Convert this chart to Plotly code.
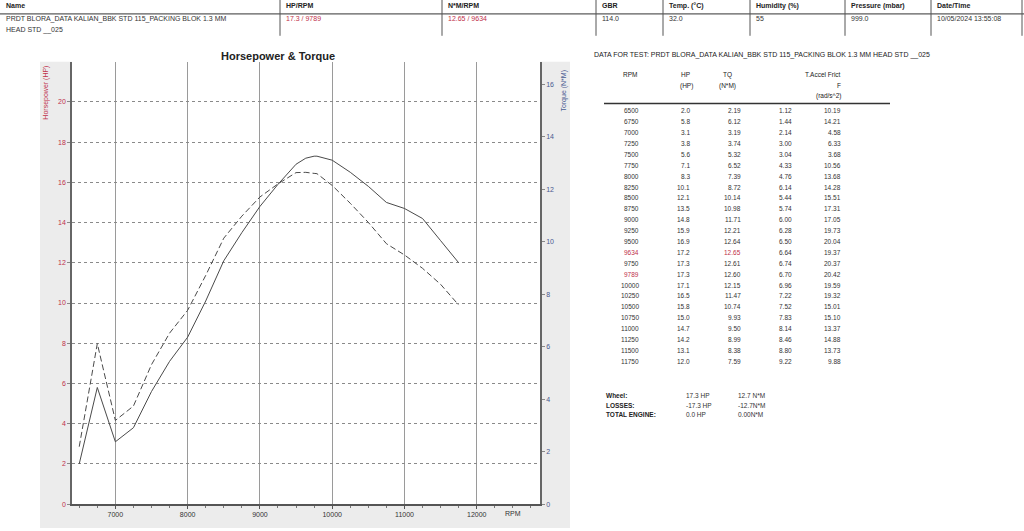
import plotly.graph_objects as go

# ---------------- data ----------------
rpm = [6500, 6750, 7000, 7250, 7500, 7750, 8000, 8250, 8500, 8750, 9000, 9250,
       9500, 9634, 9750, 9789, 10000, 10250, 10500, 10750, 11000, 11250, 11500, 11750]
hp = [2.0, 5.8, 3.1, 3.8, 5.6, 7.1, 8.3, 10.1, 12.1, 13.5, 14.8, 15.9,
      16.9, 17.2, 17.3, 17.3, 17.1, 16.5, 15.8, 15.0, 14.7, 14.2, 13.1, 12.0]
tq = [2.19, 6.12, 3.19, 3.74, 5.32, 6.52, 7.39, 8.72, 10.14, 10.98, 11.71, 12.21,
      12.64, 12.65, 12.61, 12.60, 12.15, 11.47, 10.74, 9.93, 9.50, 8.99, 8.38, 7.59]
accel = [1.12, 1.44, 2.14, 3.00, 3.04, 4.33, 4.76, 6.14, 5.44, 5.74, 6.00, 6.28,
         6.50, 6.64, 6.74, 6.70, 6.96, 7.22, 7.52, 7.83, 8.14, 8.46, 8.80, 9.22]
frict = [10.19, 14.21, 4.58, 6.33, 3.68, 10.56, 13.68, 14.28, 15.51, 17.31, 17.05, 19.73,
         20.04, 19.37, 20.37, 20.42, 19.59, 19.32, 15.01, 15.10, 13.37, 14.88, 13.73, 9.88]
highlight_rpm = [9634, 9789]

x_ticks = [7000, 8000, 9000, 10000, 11000, 12000]
hp_ticks = [0, 2, 4, 6, 8, 10, 12, 14, 16, 18, 20]
tq_ticks = [0, 2, 4, 6, 8, 10, 12, 14, 16]

test_name = "PRDT BLORA_DATA KALIAN_BBK STD 115_PACKING BLOK 1.3 MM HEAD STD __025"
header_labels = ["Name", "HP/RPM", "N*M/RPM", "GBR", "Temp. (°C)", "Humidity (%)", "Pressure (mbar)", "Date/Time"]
header_values = ["PRDT BLORA_DATA KALIAN_BBK STD 115_PACKING BLOK 1.3 MM", "17.3 / 9789", "12.65 / 9634",
                 "114.0", "32.0", "55", "999.0", "10/05/2024 13:55:08"]
summary_labels = ["Wheel:", "LOSSES:", "TOTAL ENGINE:"]
summary_hp = ["17.3 HP", "-17.3 HP", "0.0 HP"]
summary_tq = ["12.7 N*M", "-12.7N*M", "0.00N*M"]

# ---------------- layout helpers ----------------
W, H = 1024, 531
FONT = "Liberation Sans, Arial, sans-serif"
RED = "#c0304a"
BLUE = "#4a5a90"


def px(x):
    return x / W


def py(y):
    return 1 - y / H


fig = go.Figure()
fig.add_trace(go.Scatter(x=rpm, y=hp, mode="lines", line=dict(color="#4a4a4a", width=1),
                         name="HP", yaxis="y"))
fig.add_trace(go.Scatter(x=rpm, y=tq, mode="lines", line=dict(color="#4a4a4a", width=1, dash="6px,3px"),
                         name="TQ", yaxis="y2"))

annotations = []
shapes = []

# gray frame strips around axes
for x0, x1, y0, y1 in [(40, 72, 62, 531), (540, 570, 62, 531), (72, 540, 507, 531)]:
    shapes.append(dict(type="rect", xref="paper", yref="paper", x0=px(x0), x1=px(x1),
                       y0=py(y1), y1=py(y0), fillcolor="#ececec", line=dict(width=0), layer="below"))

# header table lines
shapes.append(dict(type="line", xref="paper", yref="paper", x0=0, x1=1, y0=py(14), y1=py(14),
                   line=dict(color="#333", width=1)))
header_x = [4, 284, 446, 600, 667, 754, 849, 935]
for sx in [280, 442, 596, 663, 750, 845, 931, 1022]:
    shapes.append(dict(type="line", xref="paper", yref="paper", x0=px(sx), x1=px(sx), y0=py(0), y1=py(36),
                       line=dict(color="#555", width=1)))
for i, (lab, val) in enumerate(zip(header_labels, header_values)):
    annotations.append(dict(text="<b>" + lab + "</b>", x=px(header_x[i]), y=py(6), xref="paper", yref="paper",
                            xanchor="left", yanchor="middle", showarrow=False,
                            font=dict(size=7, color="#222", family=FONT)))
    col = RED if i in (1, 2) else "#333"
    annotations.append(dict(text=val, x=px(header_x[i]), y=py(19), xref="paper", yref="paper",
                            xanchor="left", yanchor="middle", showarrow=False,
                            font=dict(size=7, color=col, family=FONT)))
annotations.append(dict(text="HEAD STD __025", x=px(4), y=py(30), xref="paper", yref="paper",
                        xanchor="left", yanchor="middle", showarrow=False,
                        font=dict(size=7, color="#333", family=FONT)))

# chart title & axis titles
annotations.append(dict(text="<b>Horsepower &amp; Torque</b>", x=px(278), y=py(56), xref="paper", yref="paper",
                        xanchor="center", yanchor="middle", showarrow=False,
                        font=dict(size=11, color="#222", family=FONT)))
annotations.append(dict(text="Horsepower (HP)", x=px(46), y=py(64), xref="paper", yref="paper",
                        xanchor="center", yanchor="top", textangle=-90, showarrow=False,
                        font=dict(size=7, color=RED, family=FONT)))
annotations.append(dict(text="Torque (N*M)", x=px(564), y=py(68), xref="paper", yref="paper",
                        xanchor="center", yanchor="top", textangle=-90, showarrow=False,
                        font=dict(size=7, color=BLUE, family=FONT)))
annotations.append(dict(text="RPM", x=12500, y=py(516), xref="x", yref="paper",
                        xanchor="center", yanchor="middle", showarrow=False,
                        font=dict(size=7, color="#333", family=FONT)))

# data table
annotations.append(dict(text="DATA FOR TEST: " + test_name, x=px(592), y=py(55), xref="paper", yref="paper",
                        xanchor="left", yanchor="middle", showarrow=False,
                        font=dict(size=7, color="#222", family=FONT)))
hdr = [("RPM", 630, 75, "center"), ("HP", 685, 75, "center"), ("TQ", 727, 75, "center"),
       ("T.Accel Frict", 843, 75, "right"), ("(HP)", 686, 86, "center"), ("(N*M)", 727, 86, "center"),
       ("F", 843, 86, "right"), ("(rad/s^2)", 843, 97, "right")]
for t, xx, yy, anc in hdr:
    annotations.append(dict(text=t, x=px(xx), y=py(yy), xref="paper", yref="paper",
                            xanchor=anc, yanchor="middle", showarrow=False,
                            font=dict(size=6.5, color="#222", family=FONT)))
shapes.append(dict(type="line", xref="paper", yref="paper", x0=px(604), x1=px(890), y0=py(104), y1=py(104),
                   line=dict(color="#333", width=1.5)))
col_x = [641, 692, 743, 794, 843]
for i, r in enumerate(rpm):
    yy = 111.5 + 10.95 * i
    cells = [str(r), f"{hp[i]:.1f}", f"{tq[i]:.2f}", f"{accel[i]:.2f}", f"{frict[i]:.2f}"]
    for j, c in enumerate(cells):
        color = "#333"
        if r in highlight_rpm and j == 0:
            color = RED
        if r == 9634 and j == 2:
            color = RED
        annotations.append(dict(text=c, x=px(col_x[j]), y=py(yy), xref="paper", yref="paper",
                                xanchor="right", yanchor="middle", showarrow=False,
                                font=dict(size=6.5, color=color, family=FONT)))

for i, lab in enumerate(summary_labels):
    yy = 398 + 9.5 * i
    annotations.append(dict(text="<b>" + lab + "</b>", x=px(604), y=py(yy), xref="paper", yref="paper",
                            xanchor="left", yanchor="middle", showarrow=False,
                            font=dict(size=6.5, color="#222", family=FONT)))
    annotations.append(dict(text=summary_hp[i], x=px(684), y=py(yy), xref="paper", yref="paper",
                            xanchor="left", yanchor="middle", showarrow=False,
                            font=dict(size=6.5, color="#333", family=FONT)))
    annotations.append(dict(text=summary_tq[i], x=px(736), y=py(yy), xref="paper", yref="paper",
                            xanchor="left", yanchor="middle", showarrow=False,
                            font=dict(size=6.5, color="#333", family=FONT)))

fig.update_layout(
    width=W, height=H, autosize=False,
    margin=dict(l=0, r=0, t=0, b=0, pad=0),
    paper_bgcolor="white", plot_bgcolor="white",
    showlegend=False,
    font=dict(family=FONT, size=7, color="#333"),
    xaxis=dict(domain=[px(72), px(540)], range=[6400, 12875], tickvals=x_ticks,
               ticktext=[str(v) for v in x_ticks], showgrid=True, gridcolor="#9a9a9a", gridwidth=1,
               zeroline=False, showline=True, linecolor="#555", linewidth=1.5,
               ticks="outside", ticklen=3, tickcolor="#555", tickfont=dict(size=7, color="#333"),
               minor=dict(dtick=250, tick0=6500, ticks="outside", ticklen=2, tickcolor="#777", showgrid=False),
               anchor="y"),
    yaxis=dict(domain=[py(507), py(62)], range=[0, 22.0], tickvals=hp_ticks,
               showgrid=True, gridcolor="#8a8a8a", griddash="dot", gridwidth=1,
               zeroline=False, showline=True, linecolor="#666", linewidth=1.5,
               ticks="outside", ticklen=3, tickcolor="#888", tickfont=dict(size=7, color=RED),
               anchor="x"),
    yaxis2=dict(domain=[py(507), py(62)], range=[0, 16.87], tickvals=tq_ticks, overlaying="y", side="right",
                showgrid=False, zeroline=False, showline=True, linecolor="#666", linewidth=1.5,
                ticks="outside", ticklen=3, tickcolor="#888", tickfont=dict(size=7, color=BLUE),
                anchor="x"),
    annotations=annotations,
    shapes=shapes,
)

fig.write_html("out.html", config={"displayModeBar": False},
               post_script="document.body.style.margin='0';")
